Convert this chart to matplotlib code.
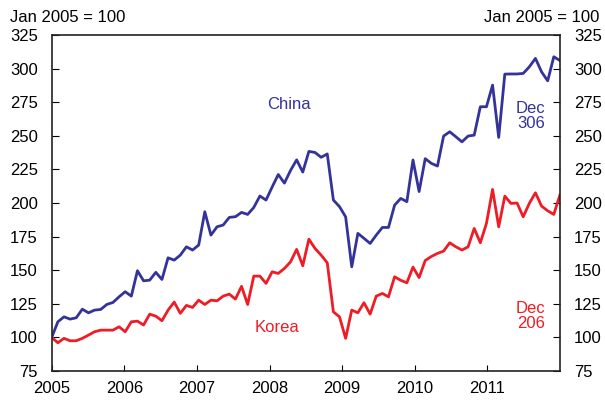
import numpy as np
import matplotlib
matplotlib.use('Agg')
import matplotlib.pyplot as plt

plt.rcParams['font.family'] = ['Liberation Sans Narrow', 'Liberation Sans', 'DejaVu Sans']

#---- datos mensuales ene 2005 - dic 2011 (ene 2005 = 100) ----#
china = [100, 111.6, 115.3, 113.6, 114.6, 121, 118.3, 120.3, 120.8, 124.5, 126, 130.2,
         134, 130.7, 149.6, 142.1, 142.6, 148.4, 143.1, 159.2, 157.5, 161.2, 167.4, 165,
         168.7, 193.5, 176.1, 182.3, 183.6, 189.3, 189.8, 193, 191.5, 196.7, 205.2, 202.2,
         211.9, 221.2, 214.8, 224.2, 232.1, 223, 238.4, 237.6, 234, 236.5, 202.2, 197.3,
         189.7, 152.5, 177.4, 173.7, 169.9, 176.1, 181.8, 181.8, 198.4, 203.4, 201, 232,
         208.5, 233, 229.5, 227.5, 249.8, 253, 249.3, 245.5, 249.8, 250.5, 271.6, 271.6,
         287.7, 248.8, 295.9, 296, 296, 296.4, 301.3, 307.6, 297.6, 290.9, 308.8, 306]
korea = [100, 96, 99.3, 97.5, 97.5, 99.3, 101.7, 104.2, 105.4, 105.4, 105.4, 107.9,
         104.2, 111.6, 112.1, 109.2, 117.3, 115.8, 112.4, 120.3, 126.3, 117.9, 123.8, 122.3,
         127.7, 124.5, 127.7, 127.2, 130.7, 132.2, 128.5, 138, 124.5, 145.6, 145.6, 140.2,
         148.8, 147.6, 151.3, 156.2, 165.5, 153.3, 173.1, 166.2, 161.2, 155.5, 119, 115.3,
         99.3, 120.3, 118.3, 125.8, 117.3, 130.7, 132.7, 130.2, 145.1, 142.5, 140.6, 152.3,
         144.5, 157.2, 160.2, 162.5, 164.2, 170.4, 167.4, 165, 167.4, 181.1, 170.4, 184.8,
         210.1, 182.3, 205.1, 199.7, 200, 189.7, 199.7, 207.6, 197.7, 194.2, 191.5, 206]
years = [2005, 2006, 2007, 2008, 2009, 2010, 2011]
yticks = [75, 100, 125, 150, 175, 200, 225, 250, 275, 300, 325]

azul = '#33339a'
rojo = '#ee1c25'

fechas = np.linspace(2005, 2012, len(china))

fig = plt.figure(figsize=(6.05, 4.0), dpi=100)
ax = fig.add_axes([0.0855, 0.0725, 0.84, 0.84])

ax.plot(fechas, china, color=azul, lw=2.0)
ax.plot(fechas, korea, color=rojo, lw=2.0)

ax.set_xlim(2005, 2012)
ax.set_ylim(75, 325)
ax.set_xticks(years)
ax.set_xticklabels([str(y) for y in years], fontsize=12)
ax.set_yticks(yticks)
ax.tick_params(axis='x', direction='in', length=4, pad=7, labelsize=12)
ax.tick_params(axis='y', direction='in', length=5, pad=10, labelsize=12,
               left=True, right=True, labelleft=True, labelright=True)
for s in ax.spines.values():
    s.set_linewidth(1.2)
    s.set_color('#222222')

#---titulos---#
fig.text(0.017, 0.955, 'Jan 2005 = 100', fontsize=12, ha='left', va='center')
fig.text(0.99, 0.955, 'Jan 2005 = 100', fontsize=12, ha='right', va='center')

ax.text(2008.27, 273, 'China', color=azul, fontsize=12, ha='center', va='center')
ax.text(2011.6, 265, 'Dec\n306', color=azul, fontsize=12, ha='center', va='center',
        multialignment='center', linespacing=1.0)
ax.text(2008.1, 107.5, 'Korea', color=rojo, fontsize=12, ha='center', va='center')
ax.text(2011.6, 116, 'Dec\n206', color=rojo, fontsize=12, ha='center', va='center',
        multialignment='center', linespacing=1.0)

fig.savefig('out.png', dpi=100)
